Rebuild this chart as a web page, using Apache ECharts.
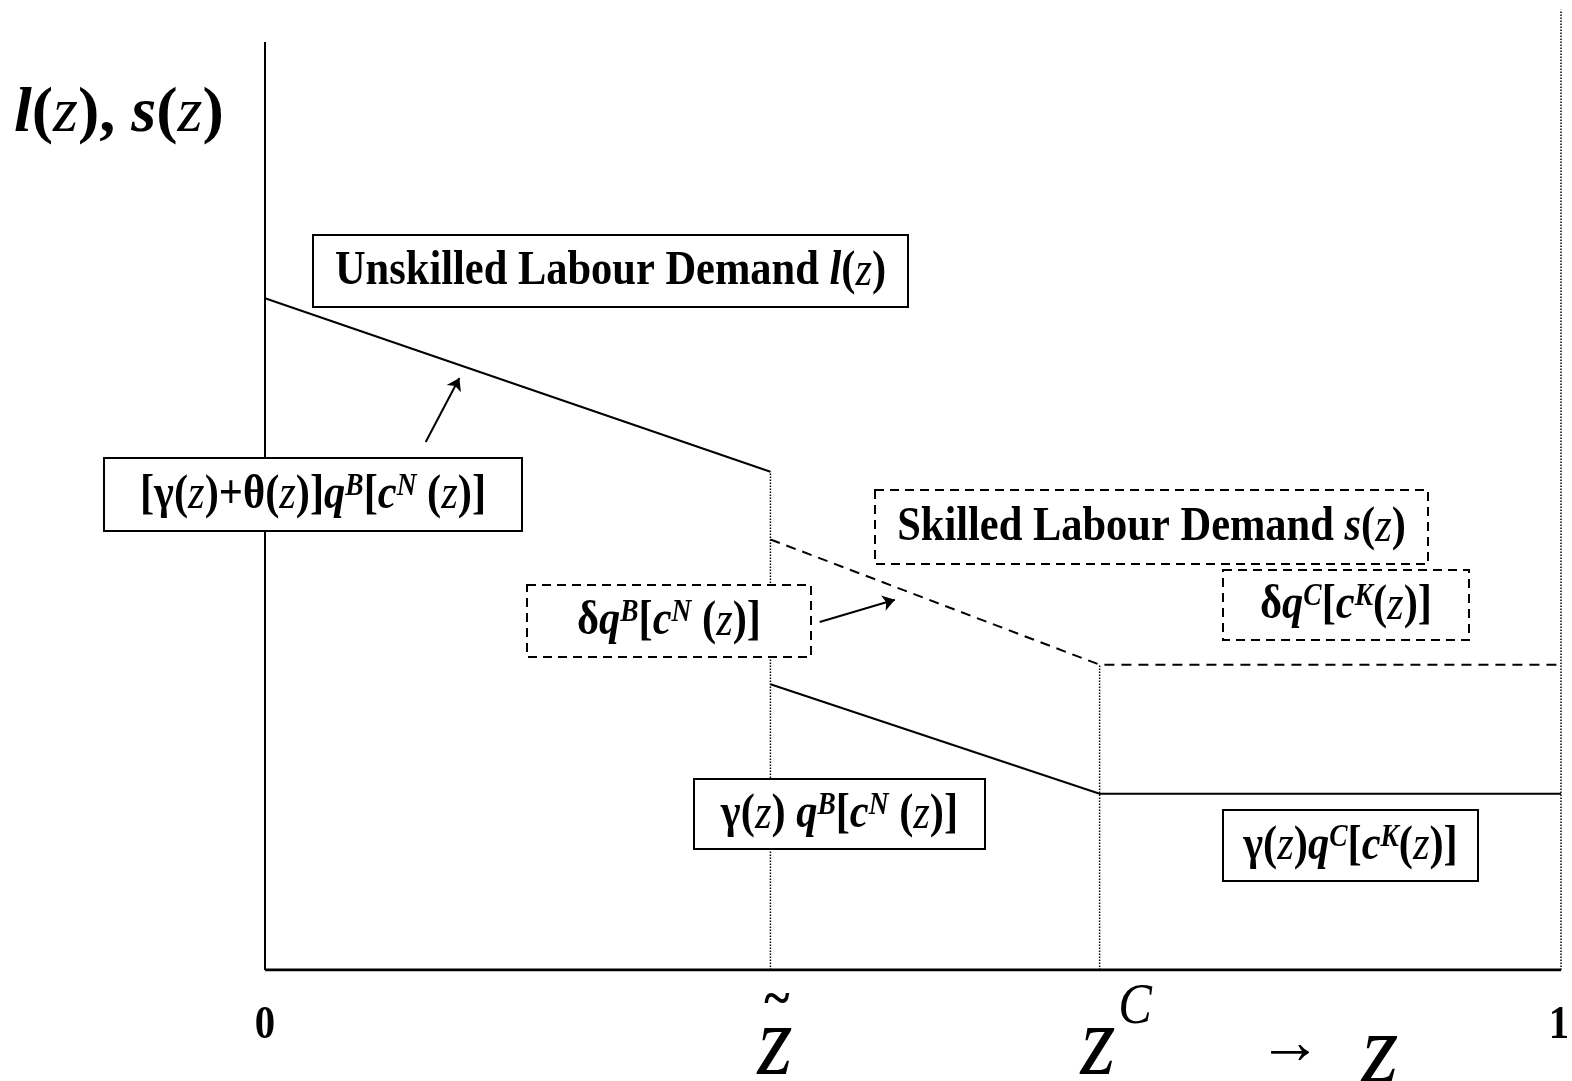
<!DOCTYPE html>
<html>
<head>
<meta charset="utf-8">
<script src="https://cdn.jsdelivr.net/npm/echarts@6/dist/echarts.min.js"></script>
<style>
  html, body { margin: 0; padding: 0; background: #fff; }
  #main { width: 1572px; height: 1081px; }
</style>
</head>
<body>
<div id="main"></div>
<script>
// positions on the z axis (0..1)
var zTilde = 0.39;
var zC = 0.644;

// curves, [z, level]
var unskilledUpper = [[0, 72.4], [zTilde, 53.7]];
var unskilledLower = [[zTilde, 30.8], [zC, 19.0], [1, 19.0]];
var skilled = [[zTilde, 46.4], [zC, 32.9], [1, 32.9]];

// axes and guide lines
var yAxisLine = [[0, 0], [0, 100]];
var xAxisLine = [[0, 0], [1, 0]];
var guideTilde = [[zTilde, 0], [zTilde, 53.7]];
var guideC = [[zC, 0], [zC, 32.9]];
var guideOne = [[1, 0], [1, 103.5]];

// arrows pointing at the curves
var arrows = [
  [[0.124, 56.9], [0.150, 63.8]],
  [[0.428, 37.5], [0.486, 39.9]]
];

var FONT = '"Liberation Serif", "Times New Roman", serif';
var SX = 0.885; // reference type is narrow and tall
var rich = {
  b: { fontFamily: FONT, fontWeight: 'bold', fontSize: 48, color: '#000' },
  i: { fontFamily: FONT, fontStyle: 'italic', fontSize: 48, color: '#000' },
  bi: { fontFamily: FONT, fontWeight: 'bold', fontStyle: 'italic', fontSize: 48, color: '#000' },
  sup: { fontFamily: FONT, fontWeight: 'bold', fontStyle: 'italic', fontSize: 31, color: '#000', verticalAlign: 'top', padding: [0, 0, 18, 0] }
};

function box(x, y, w, h, dashed, text) {
  return [
    {
      type: 'rect',
      shape: { x: x, y: y, width: w, height: h },
      style: { fill: '#fff', stroke: '#000', lineWidth: 2, lineDash: dashed ? [9, 6] : null },
      z: 10
    },
    {
      type: 'text',
      x: x + w / 2,
      y: y + h / 2 + 1,
      scaleX: SX,
      style: { text: text, rich: rich, align: 'center', verticalAlign: 'middle' },
      z: 11
    }
  ];
}

function label(x, y, text, font, sx) {
  return {
    type: 'text', x: x, y: y, scaleX: sx || 1,
    style: { text: text, font: font, fill: '#000', align: 'center', verticalAlign: 'middle' }
  };
}

var graphics = [].concat(
  box(313, 235, 595, 72, false, '{b|Unskilled Labour Demand }{bi|l}{b|(}{i|z}{b|)}'),
  box(104, 458, 418, 73, false, '{b|[γ(}{i|z}{b|)+θ(}{i|z}{b|)]}{bi|q}{sup|B}{b|[}{bi|c}{sup|N}{b| (}{i|z}{b|)]}'),
  box(527, 585, 284, 72, true, '{b|δ}{bi|q}{sup|B}{b|[}{bi|c}{sup|N}{b| (}{i|z}{b|)]}'),
  box(875, 490, 553, 74, true, '{b|Skilled Labour Demand }{bi|s}{b|(}{i|z}{b|)}'),
  box(1223, 570, 246, 70, true, '{b|δ}{bi|q}{sup|C}{b|[}{bi|c}{sup|K}{b|(}{i|z}{b|)]}'),
  box(694, 779, 291, 70, false, '{b|γ(}{i|z}{b|) }{bi|q}{sup|B}{b|[}{bi|c}{sup|N}{b| (}{i|z}{b|)]}'),
  box(1223, 810, 255, 71, false, '{b|γ(}{i|z}{b|)}{bi|q}{sup|C}{b|[}{bi|c}{sup|K}{b|(}{i|z}{b|)]}'),
  [
    {
      type: 'text', x: 14, y: 146,
      style: {
        text: '{bi|l}{b|(}{i|z}{b|), }{bi|s}{b|(}{i|z}{b|)}',
        rich: {
          b: { fontFamily: FONT, fontWeight: 'bold', fontSize: 64, color: '#000' },
          i: { fontFamily: FONT, fontStyle: 'italic', fontSize: 64, color: '#000' },
          bi: { fontFamily: FONT, fontWeight: 'bold', fontStyle: 'italic', fontSize: 64, color: '#000' }
        },
        align: 'left', verticalAlign: 'bottom'
      }
    },
    label(265, 1026, '0', 'bold 46px ' + FONT, SX),
    label(1559, 1026, '1', 'bold 46px ' + FONT, SX),
    label(775, 1048, 'z', 'italic 100px ' + FONT, 0.9),
    label(777, 1002, '~', 'bold 54px ' + FONT, 0.9),
    label(1098, 1048, 'z', 'italic 100px ' + FONT, 0.9),
    label(1135, 1008, 'C', 'italic 56px ' + FONT, 0.9),
    label(1290, 1046, '→', '64px ' + FONT, 1),
    label(1380, 1056, 'z', 'italic 100px ' + FONT, 0.95)
  ]
);

function lineSeries(data, width, type) {
  return {
    type: 'line',
    data: data,
    symbol: 'none',
    silent: true,
    animation: false,
    lineStyle: { color: '#000', width: width, type: type }
  };
}

var chart = echarts.init(document.getElementById('main'));
chart.setOption({
  backgroundColor: '#fff',
  animation: false,
  grid: { left: 265, right: 11, top: 5, bottom: 111 },
  xAxis: { type: 'value', min: 0, max: 1, show: false },
  yAxis: { type: 'value', min: 0, max: 104, show: false },
  graphic: graphics,
  series: [
    lineSeries(guideTilde, 1.5, 'dotted'),
    lineSeries(guideC, 1.5, 'dotted'),
    lineSeries(guideOne, 1.5, 'dotted'),
    lineSeries(yAxisLine, 2, 'solid'),
    lineSeries(xAxisLine, 3, 'solid'),
    lineSeries(unskilledUpper, 2, 'solid'),
    lineSeries(unskilledLower, 2, 'solid'),
    lineSeries(skilled, 2, [10, 7]),
    {
      type: 'lines',
      coordinateSystem: 'cartesian2d',
      silent: true,
      animation: false,
      symbol: ['none', 'arrow'],
      symbolSize: 12,
      lineStyle: { color: '#000', width: 2, opacity: 1 },
      data: arrows.map(function (a) { return { coords: a }; })
    }
  ]
});
window.addEventListener('resize', function () { chart.resize(); });
</script>
</body>
</html>
